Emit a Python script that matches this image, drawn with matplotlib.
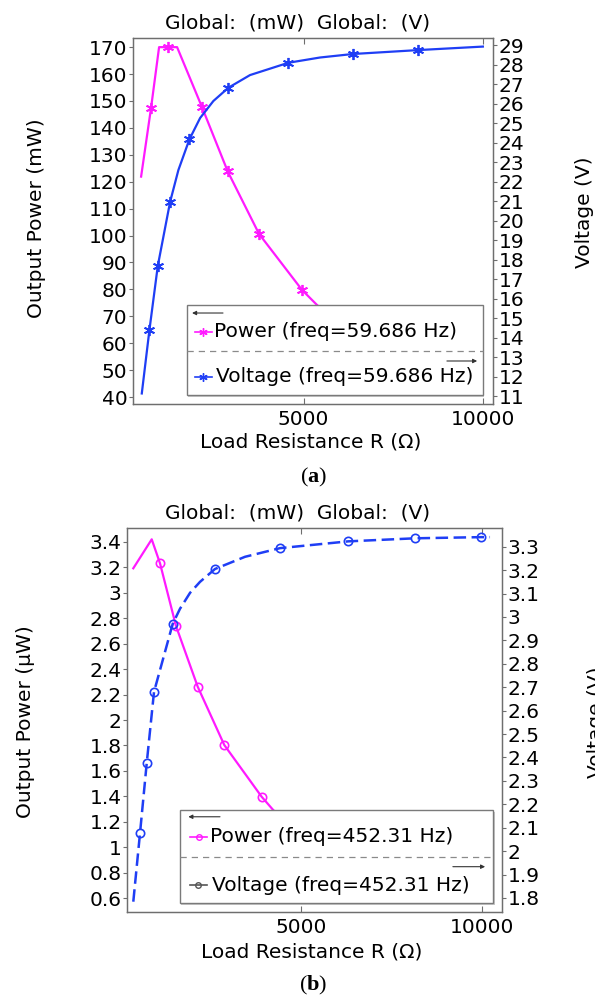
import matplotlib
matplotlib.use("Agg")
import matplotlib.pyplot as plt
from matplotlib.patches import Rectangle
from matplotlib.lines import Line2D

plt.rcParams['font.family'] = ['DejaVu Sans']
plt.rcParams['mathtext.fontset'] = 'custom'
plt.rcParams['mathtext.bf'] = 'Liberation Serif:bold'
plt.rcParams['mathtext.rm'] = 'Liberation Serif'

# ---------------- data: panel (a) ----------------
power_a_R = [471, 749, 972, 1223, 1474, 2162, 2886, 3758, 4955, 5373, 6000, 7000, 8000, 9000, 9800]
power_a_P = [121.9, 147.5, 170.0, 170.0, 170.0, 147.9, 123.8, 100.6, 79.8, 74.2, 67.0, 59.0, 52.0, 47.0, 44.0]
power_a_marks = [1, 3, 5, 6, 7, 8]

volt_a_R = [490, 702, 936, 1279, 1510, 1816, 2116, 2485, 2903, 3507, 4574, 5457, 6376, 8187, 9997]
volt_a_V = [11.14, 14.38, 17.68, 20.96, 22.59, 24.16, 25.26, 26.13, 26.81, 27.46, 28.09, 28.36, 28.54, 28.74, 28.92]
volt_a_marks = [1, 2, 3, 5, 8, 10, 12, 13]

# ---------------- data: panel (b) ----------------
power_b_R = [367, 876, 1105, 1547, 2146, 2881, 3914, 4235, 5000, 6000, 7000, 8000, 9000, 9900]
power_b_P = [3.193, 3.421, 3.232, 2.739, 2.262, 1.803, 1.396, 1.291, 1.12, 0.95, 0.83, 0.74, 0.67, 0.62]
power_b_marks = [2, 3, 4, 5, 6]

volt_b_R = [367, 552, 738, 939, 1456, 1657, 1934, 2210, 2624, 3453, 4420, 6307, 8149, 9972, 10221]
volt_b_V = [1.784, 2.076, 2.376, 2.680, 2.971, 3.035, 3.103, 3.150, 3.205, 3.257, 3.294, 3.323, 3.336, 3.341, 3.341]
volt_b_marks = [1, 2, 3, 4, 8, 10, 11, 12, 13]

xticks = [5000, 10000]
yticks_a_left = list(range(40, 171, 10))
yticks_a_right = list(range(11, 30, 1))
yticks_b_left = [0.6, 0.8, 1.0, 1.2, 1.4, 1.6, 1.8, 2.0, 2.2, 2.4, 2.6, 2.8, 3.0, 3.2, 3.4]
yticks_b_right = [1.8, 1.9, 2.0, 2.1, 2.2, 2.3, 2.4, 2.5, 2.6, 2.7, 2.8, 2.9, 3.0, 3.1, 3.2, 3.3]

legend_a = ['Power (freq=59.686 Hz)', 'Voltage (freq=59.686 Hz)']
legend_b = ['Power (freq=452.31 Hz)', 'Voltage (freq=452.31 Hz)']

MAG = '#ff1aff'
BLUE = '#1f3ef5'
FS = 14.5
W, H = 595, 1001

def fx(px):
    return px / W

def fy(py):
    return 1 - py / H

def fmt(v):
    s = ('%.1f' % v).rstrip('0').rstrip('.')
    return s

fig = plt.figure(figsize=(W / 100, H / 100), dpi=100)


def style_axes(ax, axr, ytl, ytr):
    for a in (ax, axr):
        for s in a.spines.values():
            s.set_color('#6e6e6e')
            s.set_linewidth(0.9)
    ax.set_xticks(xticks)
    ax.set_xticklabels([str(t) for t in xticks], fontsize=FS)
    ax.tick_params(axis='x', direction='in', top=True, length=4, width=0.8,
                   color='#6e6e6e', pad=4)
    ax.set_yticks(ytl)
    ax.set_yticklabels([fmt(t) for t in ytl], fontsize=FS)
    ax.tick_params(axis='y', direction='out', length=3, width=0.8, color='#6e6e6e', pad=1)
    axr.set_yticks(ytr)
    axr.set_yticklabels([fmt(t) for t in ytr], fontsize=FS)
    axr.tick_params(axis='y', direction='out', length=3, width=0.8, color='#6e6e6e', pad=1)


def draw_legend(axr, box, rows, arrows, sep_y, labels, samples):
    x0, y0, x1, y1 = box
    axr.add_patch(Rectangle((x0 + 0.004, y0 - 0.006), x1 - x0, y1 - y0, transform=axr.transAxes,
                            facecolor='#c8c8c8', edgecolor='none', zorder=9))
    axr.add_patch(Rectangle((x0, y0), x1 - x0, y1 - y0, transform=axr.transAxes,
                            facecolor='white', edgecolor='#7a7a7a', lw=1.0, zorder=10))
    (la0, la1, lay), (ra0, ra1, ray) = arrows
    axr.annotate('', xy=(la0, lay), xytext=(la1, lay), xycoords='axes fraction',
                 arrowprops=dict(arrowstyle='-|>', color='#333333', lw=0.8,
                                 mutation_scale=6, shrinkA=0, shrinkB=0), zorder=11)
    axr.annotate('', xy=(ra1, ray), xytext=(ra0, ray), xycoords='axes fraction',
                 arrowprops=dict(arrowstyle='-|>', color='#333333', lw=0.8,
                                 mutation_scale=6, shrinkA=0, shrinkB=0), zorder=11)
    axr.add_line(Line2D([x0, x1], [sep_y, sep_y], transform=axr.transAxes, color='#8a8a8a',
                        lw=0.9, dashes=(5, 4), zorder=11))
    for (lx0, lx1, mx, ty, tx), lab, (col, mk, ms, mew, mcol) in zip(rows, labels, samples):
        axr.add_line(Line2D([lx0, lx1], [ty, ty], transform=axr.transAxes, color=col, lw=1.2, zorder=11))
        axr.add_line(Line2D([mx], [ty], transform=axr.transAxes, color=mcol, marker=mk, ms=ms,
                            mew=mew, mfc='none', zorder=12))
        axr.text(tx, ty, lab, transform=axr.transAxes, fontsize=FS, va='center', ha='left', zorder=12)


# ================= panel (a) =================
ax1 = fig.add_axes([fx(133), fy(404), (493 - 133) / W, (404 - 38) / H])
ax1r = ax1.twinx()
ax1.plot(power_a_R, power_a_P, color=MAG, lw=1.6, marker=(6, 2, 0), ms=8, mew=1.3,
         markevery=power_a_marks, zorder=3)
ax1r.plot(volt_a_R, volt_a_V, color=BLUE, lw=1.6, marker=(6, 2, 0), ms=8, mew=1.3,
          markevery=volt_a_marks, zorder=3)
ax1.set_xlim(245, 10279)
ax1.set_ylim(37.4, 173.4)
ax1r.set_ylim(10.6, 29.36)
style_axes(ax1, ax1r, yticks_a_left, yticks_a_right)
draw_legend(ax1r, (0.150, 0.0246, 0.972, 0.2705),
            rows=[(0.172, 0.219, 0.194, 0.197, 0.226), (0.172, 0.219, 0.194, 0.0738, 0.231)],
            arrows=[(0.164, 0.25, 0.2486), (0.872, 0.956, 0.1175)], sep_y=0.145,
            labels=legend_a,
            samples=[(MAG, (6, 2, 0), 6, 1.0, MAG), (BLUE, (6, 2, 0), 6, 1.0, BLUE)])

fig.text(fx(298), fy(23), 'Global:  (mW)  Global:  (V)', ha='center', va='center', fontsize=FS)
fig.text(fx(37), fy(218), 'Output Power (mW)', rotation=90, ha='center', va='center', fontsize=FS)
fig.text(fx(585), fy(212), 'Voltage (V)', rotation=90, ha='center', va='center', fontsize=FS)
fig.text(fx(311), fy(442), 'Load Resistance R (Ω)', ha='center', va='center', fontsize=FS)
fig.text(fx(314), fy(477), r'($\mathbf{a}$)', ha='center', va='center', fontsize=16,
         family='Liberation Serif')

# ================= panel (b) =================
ax2 = fig.add_axes([fx(127), fy(912), (502 - 127) / W, (912 - 528) / H])
ax2r = ax2.twinx()
ax2.plot(power_b_R, power_b_P, color=MAG, lw=1.6, marker='o', ms=6, mew=1.2, mfc='none',
         markevery=power_b_marks, zorder=3)
ax2r.plot(volt_b_R, volt_b_V, color=BLUE, lw=1.8, dashes=(5, 2.2), marker='o', ms=6, mew=1.2,
          mfc='none', markevery=volt_b_marks, zorder=3)
ax2.set_xlim(193, 10552)
ax2.set_ylim(0.49, 3.51)
ax2r.set_ylim(1.74, 3.38)
style_axes(ax2, ax2r, yticks_b_left, yticks_b_right)
draw_legend(ax2r, (0.1413, 0.0234, 0.976, 0.2656),
            rows=[(0.168, 0.213, 0.192, 0.196, 0.221), (0.168, 0.213, 0.189, 0.0703, 0.226)],
            arrows=[(0.1635, 0.248, 0.248), (0.869, 0.955, 0.118)], sep_y=0.144,
            labels=legend_b,
            samples=[(MAG, 'o', 4, 1.0, MAG), ('#555555', 'o', 4, 1.0, '#555555')])

fig.text(fx(298), fy(513), 'Global:  (mW)  Global:  (V)', ha='center', va='center', fontsize=FS)
fig.text(fx(26), fy(722), 'Output Power (μW)', rotation=90, ha='center', va='center', fontsize=FS)
fig.text(fx(596), fy(722), 'Voltage (V)', rotation=90, ha='center', va='center', fontsize=FS)
fig.text(fx(312), fy(952), 'Load Resistance R (Ω)', ha='center', va='center', fontsize=FS)
fig.text(fx(313), fy(985), r'($\mathbf{b}$)', ha='center', va='center', fontsize=16,
         family='Liberation Serif')

fig.savefig('out.png', dpi=100)
